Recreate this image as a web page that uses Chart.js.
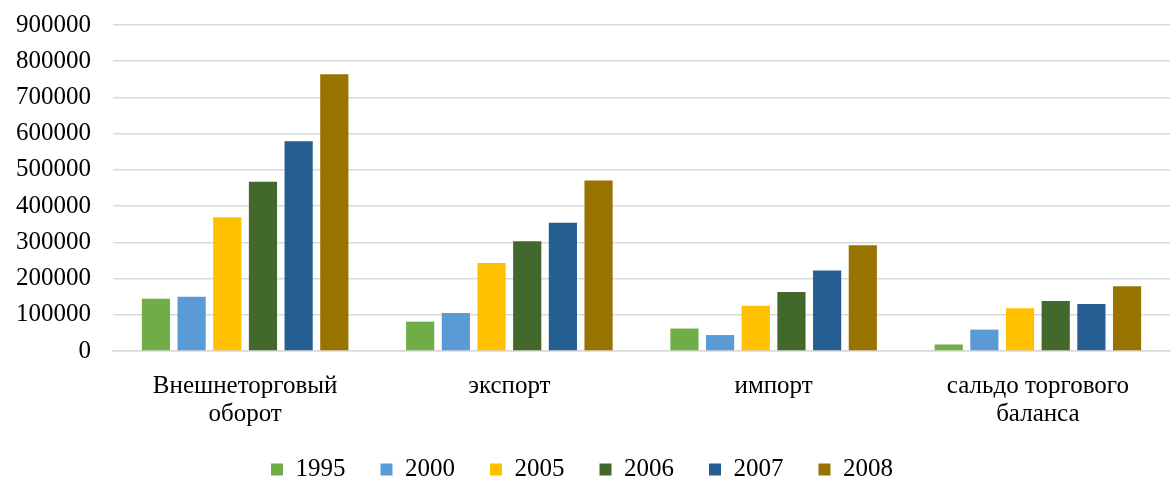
<!DOCTYPE html>
<html>
<head>
<meta charset="utf-8">
<script src="https://cdn.jsdelivr.net/npm/chart.js@4/dist/chart.umd.min.js"></script>
<style>
  body { margin: 0; background: #fff; overflow: hidden; }
  #wrap { width: 1171px; height: 503px; margin-top: -11px; }
</style>
</head>
<body>
<div id="wrap"><canvas id="myChart"></canvas></div>
<script>
// categories
const categories = [
    ["Внешнеторговый", "оборот"],
    "экспорт",
    "импорт",
    ["сальдо торгового", "баланса"]
];

// series values
const years = ["1995", "2000", "2005", "2006", "2007", "2008"];
const v1995 = [144000, 81000, 62000, 18000];
const v2000 = [150000, 105000, 44000, 59000];
const v2005 = [369000, 243000, 125000, 118000];
const v2006 = [467000, 303000, 163000, 138000];
const v2007 = [579000, 354000, 222000, 130000];
const v2008 = [764000, 471000, 292000, 179000];
const colors = ["#70ad47", "#5b9bd5", "#ffc000", "#43682b", "#255e91", "#997300"];

const seriesValues = [v1995, v2000, v2005, v2006, v2007, v2008];

const datasets = [];
for (let i = 0; i < years.length; i++) {
    datasets.push({
        label: years[i],
        data: seriesValues[i],
        backgroundColor: colors[i],
        categoryPercentage: 0.81,
        barPercentage: 0.79,
    });
}

const font = { family: "'Liberation Serif', 'Times New Roman', serif", size: 25, lineHeight: 1.12 };

var ctx = document.getElementById("myChart").getContext("2d");
var chart = new Chart(ctx, {
    type: "bar",
    data: {
        labels: categories,
        datasets: datasets,
    },
    options: {
        responsive: true,
        maintainAspectRatio: false,
        animation: false,
        layout: { padding: { top: 0, right: 1, left: -6, bottom: 0 } },
        plugins: {
            legend: {
                position: "bottom",
                labels: {
                    font: font,
                    color: "#000",
                    boxWidth: 12,
                    boxHeight: 12,
                    padding: 10,
                    // a bit of extra room after each year, like the original
                    generateLabels: (c) => {
                        const items = Chart.defaults.plugins.legend.labels.generateLabels(c);
                        items.forEach((it, i) => {
                            if (i < items.length - 1) it.text = it.text + "\u2003";
                        });
                        return items;
                    },
                },
            },
            tooltip: { enabled: false },
        },
        scales: {
            x: {
                grid: { display: false },
                border: { color: "#d9d9d9", width: 1.5 },
                ticks: { font: font, color: "#000", padding: 13, maxRotation: 0 },
                afterFit: (axis) => { axis.height = 96; },
            },
            y: {
                min: 0,
                max: 900000,
                ticks: {
                    stepSize: 100000,
                    font: font,
                    color: "#000",
                    padding: 22,
                    callback: (v) => String(v),
                },
                grid: { color: "#d9d9d9", lineWidth: 1.5, drawTicks: false },
                border: { display: false },
            },
        },
    },
});
</script>
</body>
</html>
